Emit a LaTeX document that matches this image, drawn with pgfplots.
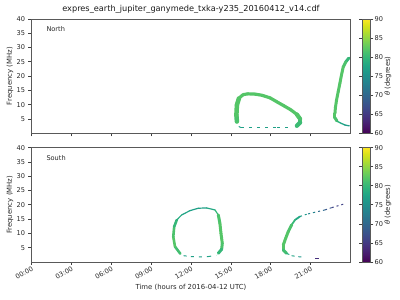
\documentclass[border=0pt]{standalone}
\usepackage{fontspec}
\setmainfont{DejaVu Sans}
\usepackage{pgfplots}
\pgfplotsset{compat=1.18}
\pgfplotsset{band/.style={mesh, point meta=explicit, line cap=round, line join=round, line width=#1}}
\pgfplotsset{
 myax/.style={scale only axis, width=318.9pt, height=114.4pt,
  xmin=0, xmax=24, ymin=0, ymax=40,
  xtick={0,3,...,21}, ytick={5,10,...,40},
  tick pos=left, tick align=outside, major tick length=3pt,
  every tick/.style={black!75, line width=0.6pt},
  axis line style={black!65, line width=0.7pt},
  /pgf/number format/assume math mode=true,
  tick label style={font=\fontsize{6.6}{7.5}\selectfont, black!85},
  label style={font=\fontsize{6.9}{8}\selectfont, black!85},
  ylabel={Frequency (MHz)},
  ylabel style={at={(axis description cs:-0.0674,0.5)}, anchor=center},
  colormap/viridis, point meta min=60, point meta max=90,
  colorbar, colorbar shift/.style={},
  colorbar style={at={(parent axis.north east)}, anchor=north west, xshift=12pt,
   width=8pt, ytick={60,65,...,90}, yticklabel pos=right,
   tick align=outside, major tick length=3pt,
   every tick/.style={black!75, line width=0.6pt},
   axis line style={black!65, line width=0.7pt},
   /pgf/number format/assume math mode=true,
   tick label style={font=\fontsize{6.6}{7.5}\selectfont, black!85},
   yticklabel style={inner sep=1pt},
   ylabel={\textit{θ} (degrees)},
   ylabel style={font=\fontsize{6.9}{8}\selectfont, black!85, at={(axis description cs:3.2,0.5)}, anchor=center}},
 }
}
\begin{document}
\begin{tikzpicture}
\path[use as bounding box] (0,0) rectangle (400pt,300pt);
% ---------- North ----------
\begin{axis}[myax, at={(31.5pt,166.7pt)}, anchor=south west,
  xticklabels={},
  title={expres\_earth\_jupiter\_ganymede\_txka-y235\_20160412\_v14.cdf},
  title style={font=\fontsize{8.2}{9}\selectfont, black!90, anchor=center, yshift=4pt}]
\addplot[band=4.5pt] table[x=h,y=f,meta=c] {
h f c
15.46 4.1 81
15.42 6.4 82
15.46 9.9 82
15.61 12.2 82
};
\addplot[band=3.2pt] table[x=h,y=f,meta=c] {
h f c
15.61 12.2 82
15.91 13.5 82
16.29 13.8 82
16.82 13.7 82
17.34 13.3 82
17.95 12.4 82
18.47 11.0 82
19.00 9.6 82
19.52 8.2 82
19.97 6.6 82
};
\addplot[band=4.2pt] table[x=h,y=f,meta=c] {
h f c
19.97 6.6 82
20.22 5.0 82
20.22 3.8 81
19.97 2.6 80
};
\addplot[mesh, point meta=explicit, line width=1pt, dash pattern=on 3pt off 5pt] table[x=h,y=f,meta=c] {
h f c
15.60 2.4 77
15.75 2.0 77
17.00 2.0 77
18.50 2.0 77
19.70 2.0 77
};
\addplot[band=3pt] table[x=h,y=f,meta=c] {
h f c
23.88 26.3 79
23.66 25.0 81
23.46 23.2 82
23.33 20.4 82
23.21 17.5 82
23.08 14.5 82
22.96 11.7 82
22.87 8.9 82
22.84 7.0 82
22.84 5.4 82
22.99 4.3 81
};
\addplot[band=1.3pt] table[x=h,y=f,meta=c] {
h f c
22.99 4.3 81
23.21 3.7 78
23.59 2.9 77
23.91 2.6 76
};
\node[anchor=west, font=\fontsize{6.6}{7.5}\selectfont, black!85] at (rel axis cs:0.036,0.91) {North};
\end{axis}
% ---------- South ----------
\begin{axis}[myax, at={(31.5pt,38pt)}, anchor=south west,
  xticklabels={00:00,03:00,06:00,09:00,12:00,15:00,18:00,21:00},
  xticklabel style={rotate=30, anchor=north east, inner sep=0.5pt},
  xlabel={Time (hours of 2016-04-12 UTC)},
  xlabel style={at={(axis description cs:0.5,-0.218)}, anchor=center}]
\addplot[band=2.6pt] table[x=h,y=f,meta=c] {
h f c
11.20 2.9 80
10.80 5.36 82
10.67 8.86 82
10.74 12.36 81
10.93 14.7 79
};
\addplot[band=1.2pt] table[x=h,y=f,meta=c] {
h f c
10.93 14.7 79
11.30 16.45 78
11.93 17.96 77
12.55 18.8 77
13.18 18.9 77
13.81 18.2 79
14.06 16.45 81
};
\addplot[band=3pt] table[x=h,y=f,meta=c] {
h f c
14.06 16.45 81
14.18 13.5 82
14.26 10.0 82
14.36 6.5 82
14.31 4.45 81
14.06 3.05 79
};
\addplot[mesh, point meta=explicit, line width=1pt, dash pattern=on 3pt off 5pt] table[x=h,y=f,meta=c] {
h f c
11.45 2.2 77
12.00 1.9 77
12.60 1.8 77
13.30 1.9 77
13.90 2.3 78
};
\addplot[mesh, point meta=explicit, line width=1pt, dash pattern=on 2pt off 3pt] table[x=h,y=f,meta=c] {
h f c
23.46 20.2 65
22.59 19.0 67
22.08 18.2 69
21.33 17.4 72
20.71 16.7 75
20.20 15.9 77
};
\addplot[band=1.8pt] table[x=h,y=f,meta=c] {
h f c
20.20 15.9 77
19.83 14.7 79
19.58 13.0 81
};
\addplot[band=3pt] table[x=h,y=f,meta=c] {
h f c
19.58 13.0 81
19.32 10.6 82
19.13 8.3 82
18.95 5.95 82
18.95 4.2 82
19.20 3.05 80
};
\addplot[mesh, point meta=explicit, line width=1pt, dash pattern=on 3pt off 4pt] table[x=h,y=f,meta=c] {
h f c
19.20 3.05 79
19.58 2.2 78
20.08 1.85 77
20.58 1.65 75
};
\addplot[mesh, point meta=explicit, line width=1pt] table[x=h,y=f,meta=c] {
h f c
21.35 1.35 64
21.60 1.35 64
};
\node[anchor=west, font=\fontsize{6.6}{7.5}\selectfont, black!85] at (rel axis cs:0.036,0.91) {South};
\end{axis}
\end{tikzpicture}
\end{document}
